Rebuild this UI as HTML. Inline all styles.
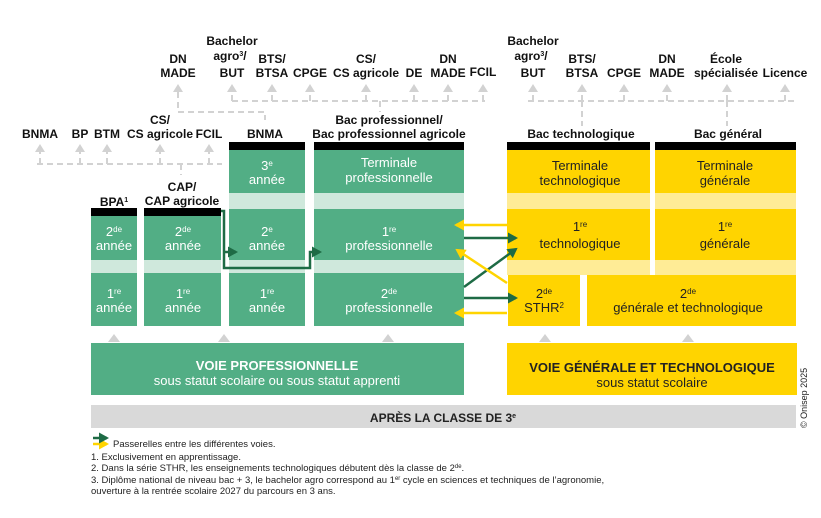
<!DOCTYPE html>
<html><head><meta charset="utf-8"><style>
body{margin:0;background:#fff}
svg text{font-family:"Liberation Sans",sans-serif}
</style></head><body>
<svg width="821" height="513" viewBox="0 0 821 513" xmlns="http://www.w3.org/2000/svg">
<defs>
<marker id="ag" markerWidth="11" markerHeight="11" refX="8" refY="5.5" orient="auto" markerUnits="userSpaceOnUse"><path d="M0,0 L10,5.5 L0,11z" fill="#1e6b45"/></marker>
<marker id="ay" markerWidth="11" markerHeight="11" refX="8" refY="5.5" orient="auto" markerUnits="userSpaceOnUse"><path d="M0,0 L10,5.5 L0,11z" fill="#ffd400"/></marker>
</defs>
<g stroke="#d2d2d2" stroke-width="2" stroke-dasharray="6,4" fill="none">
<path d="M37,164 H222 M40,164 V152 M80,164 V152 M107,164 V152 M160,164 V152 M209,164 V152 M181,164 V175"/>
<path d="M178,92 V112 H265 V120"/>
<path d="M232,101 H485 M232,101 V92 M272,101 V92 M310,101 V92 M366,101 V92 M414,101 V92 M448,101 V92 M483,101 V92 M380,101 V112"/>
<path d="M528,101 H795 M533,101 V92 M582,101 V92 M624,101 V92 M667,101 V92 M727,101 V92 M785,101 V92 M582,101 V126 M727,101 V126"/>
</g>
<g fill="#d2d2d2">
<path d="M35,152 l5,-8 l5,8z M75,152 l5,-8 l5,8z M102,152 l5,-8 l5,8z M155,152 l5,-8 l5,8z M204,152 l5,-8 l5,8z"/>
<path d="M173,92 l5,-8 l5,8z M227,92 l5,-8 l5,8z M267,92 l5,-8 l5,8z M305,92 l5,-8 l5,8z M361,92 l5,-8 l5,8z M409,92 l5,-8 l5,8z M443,92 l5,-8 l5,8z M478,92 l5,-8 l5,8z"/>
<path d="M528,92 l5,-8 l5,8z M577,92 l5,-8 l5,8z M619,92 l5,-8 l5,8z M662,92 l5,-8 l5,8z M722,92 l5,-8 l5,8z M780,92 l5,-8 l5,8z"/>
<path d="M108,342 l6,-8 l6,8z M218,342 l6,-8 l6,8z M382,342 l6,-8 l6,8z M539,342 l6,-8 l6,8z M682,342 l6,-8 l6,8z"/>
</g>
<g font-size="12" font-weight="bold" fill="#111" text-anchor="middle">
<text x="40" y="138">BNMA</text><text x="80" y="138">BP</text><text x="107" y="138">BTM</text>
<text x="160" y="124">CS/</text><text x="160" y="138">CS agricole</text><text x="209" y="138">FCIL</text>
<text x="178" y="63">DN</text><text x="178" y="77">MADE</text>
<text x="232" y="45">Bachelor</text><text x="230" y="60">agro<tspan font-size="7" dy="-4">3</tspan><tspan dy="4">/</tspan></text><text x="232" y="77">BUT</text>
<text x="272" y="63">BTS/</text><text x="272" y="77">BTSA</text><text x="310" y="77">CPGE</text>
<text x="366" y="63">CS/</text><text x="366" y="77">CS agricole</text><text x="414" y="77">DE</text>
<text x="448" y="63">DN</text><text x="448" y="77">MADE</text><text x="483" y="76">FCIL</text>
<text x="533" y="45">Bachelor</text><text x="531" y="60">agro<tspan font-size="7" dy="-4">3</tspan><tspan dy="4">/</tspan></text><text x="533" y="77">BUT</text>
<text x="582" y="63">BTS/</text><text x="582" y="77">BTSA</text><text x="624" y="77">CPGE</text>
<text x="667" y="63">DN</text><text x="667" y="77">MADE</text>
<text x="726" y="63">École</text><text x="726" y="77">spécialisée</text><text x="785" y="77">Licence</text>
<text x="265" y="138">BNMA</text>
<text x="389" y="124">Bac professionnel/</text><text x="389" y="138">Bac professionnel agricole</text>
<text x="581" y="138">Bac technologique</text><text x="728" y="138">Bac général</text>
<text x="114" y="206">BPA<tspan font-size="7" dy="-4">1</tspan></text>
<text x="182" y="191">CAP/</text><text x="182" y="205">CAP agricole</text>
</g>
<g fill="#000">
<rect x="91" y="208" width="46" height="8"/><rect x="144" y="208" width="77" height="8"/>
<rect x="229" y="142" width="76" height="8"/><rect x="314" y="142" width="150" height="8"/>
<rect x="507" y="142" width="143" height="8"/><rect x="655" y="142" width="141" height="8"/>
</g>
<g fill="#cfe8dc">
<rect x="91" y="216" width="46" height="110"/><rect x="144" y="216" width="77" height="110"/>
<rect x="229" y="150" width="76" height="176"/><rect x="314" y="150" width="150" height="176"/>
</g>
<g fill="#52ae85">
<rect x="91" y="216" width="46" height="44"/><rect x="91" y="273" width="46" height="53"/>
<rect x="144" y="216" width="77" height="44"/><rect x="144" y="273" width="77" height="53"/>
<rect x="229" y="150" width="76" height="43"/><rect x="229" y="209" width="76" height="51"/><rect x="229" y="273" width="76" height="53"/>
<rect x="314" y="150" width="150" height="43"/><rect x="314" y="209" width="150" height="51"/><rect x="314" y="273" width="150" height="53"/>
<rect x="91" y="343" width="373" height="52"/>
</g>
<g fill="#ffec96"><rect x="507" y="150" width="143" height="125"/><rect x="655" y="150" width="141" height="125"/></g>
<g fill="#ffd400">
<rect x="507" y="150" width="143" height="43"/><rect x="507" y="209" width="143" height="51"/>
<rect x="655" y="150" width="141" height="43"/><rect x="655" y="209" width="141" height="51"/>
<rect x="508" y="275" width="72" height="51"/><rect x="587" y="275" width="209" height="51"/>
<rect x="507" y="343" width="290" height="52"/>
</g>
<rect x="650" y="260" width="5" height="15" fill="#fff"/>
<rect x="91" y="405" width="705" height="23" fill="#d9d9d9"/>
<g font-size="13" fill="#fff" text-anchor="middle">
<text x="114" y="236">2<tspan font-size="8" dy="-4">de</tspan></text><text x="114" y="250">année</text>
<text x="114" y="298">1<tspan font-size="8" dy="-4">re</tspan></text><text x="114" y="312">année</text>
<text x="183" y="236">2<tspan font-size="8" dy="-4">de</tspan></text><text x="183" y="250">année</text>
<text x="183" y="298">1<tspan font-size="8" dy="-4">re</tspan></text><text x="183" y="312">année</text>
<text x="267" y="170">3<tspan font-size="8" dy="-4">e</tspan></text><text x="267" y="184">année</text>
<text x="267" y="236">2<tspan font-size="8" dy="-4">e</tspan></text><text x="267" y="250">année</text>
<text x="267" y="298">1<tspan font-size="8" dy="-4">re</tspan></text><text x="267" y="312">année</text>
<text x="389" y="167">Terminale</text><text x="389" y="182">professionnelle</text>
<text x="389" y="236">1<tspan font-size="8" dy="-4">re</tspan></text><text x="389" y="250">professionnelle</text>
<text x="389" y="298">2<tspan font-size="8" dy="-4">de</tspan></text><text x="389" y="312">professionnelle</text>
<text x="277" y="370" font-size="13" font-weight="bold">VOIE PROFESSIONNELLE</text>
<text x="277" y="385">sous statut scolaire ou sous statut apprenti</text>
</g>
<g font-size="13" fill="#222" text-anchor="middle">
<text x="580" y="170">Terminale</text><text x="580" y="185">technologique</text>
<text x="725" y="170">Terminale</text><text x="725" y="185">générale</text>
<text x="580" y="231">1<tspan font-size="8" dy="-4">re</tspan></text><text x="580" y="248">technologique</text>
<text x="725" y="231">1<tspan font-size="8" dy="-4">re</tspan></text><text x="725" y="248">générale</text>
<text x="544" y="298">2<tspan font-size="8" dy="-4">de</tspan></text><text x="544" y="312">STHR<tspan font-size="8" dy="-4">2</tspan></text>
<text x="688" y="298">2<tspan font-size="8" dy="-4">de</tspan></text><text x="688" y="312">générale et technologique</text>
<text x="652" y="372" font-size="13" font-weight="bold">VOIE GÉNÉRALE ET TECHNOLOGIQUE</text>
<text x="652" y="387">sous statut scolaire</text>
<text x="443" y="422" font-size="12" font-weight="bold">APRÈS LA CLASSE DE 3<tspan font-size="7" dy="-4">e</tspan></text>
</g>
<text transform="translate(807,428) rotate(-90)" font-size="9" fill="#222">© Onisep 2025</text>
<g stroke="#1e6b45" stroke-width="2.5" fill="none">
<path d="M221,211 H224 V268 H310 V252 H320" marker-end="url(#ag)"/>
<path d="M224,252 H236" marker-end="url(#ag)"/>
<path d="M464,238 H516" marker-end="url(#ag)"/>
<path d="M464,287 L516,249" marker-end="url(#ag)"/>
<path d="M464,298 H516" marker-end="url(#ag)"/>
</g>
<g stroke="#ffd400" stroke-width="2.5" fill="none">
<path d="M507,225 H456" marker-end="url(#ay)"/>
<path d="M507,283 L457,250" marker-end="url(#ay)"/>
<path d="M507,313 H456" marker-end="url(#ay)"/>
<path d="M93,444 H107" marker-end="url(#ay)"/>
</g>
<path d="M93,438 H107" stroke="#1e6b45" stroke-width="2.5" marker-end="url(#ag)"/>
<g font-size="9.5" fill="#222">
<text x="113" y="447">Passerelles entre les différentes voies.</text>
<text x="91" y="460">1. Exclusivement en apprentissage.</text>
<text x="91" y="471">2. Dans la série STHR, les enseignements technologiques débutent dès la classe de 2<tspan font-size="6" dy="-3">de</tspan><tspan dy="3">.</tspan></text>
<text x="91" y="483">3. Diplôme national de niveau bac + 3, le bachelor agro correspond au 1<tspan font-size="6" dy="-3">er</tspan><tspan dy="3"> cycle en sciences et techniques de l’agronomie,</tspan></text>
<text x="91" y="494">ouverture à la rentrée scolaire 2027 du parcours en 3 ans.</text>
</g>
</svg>
</body></html>
